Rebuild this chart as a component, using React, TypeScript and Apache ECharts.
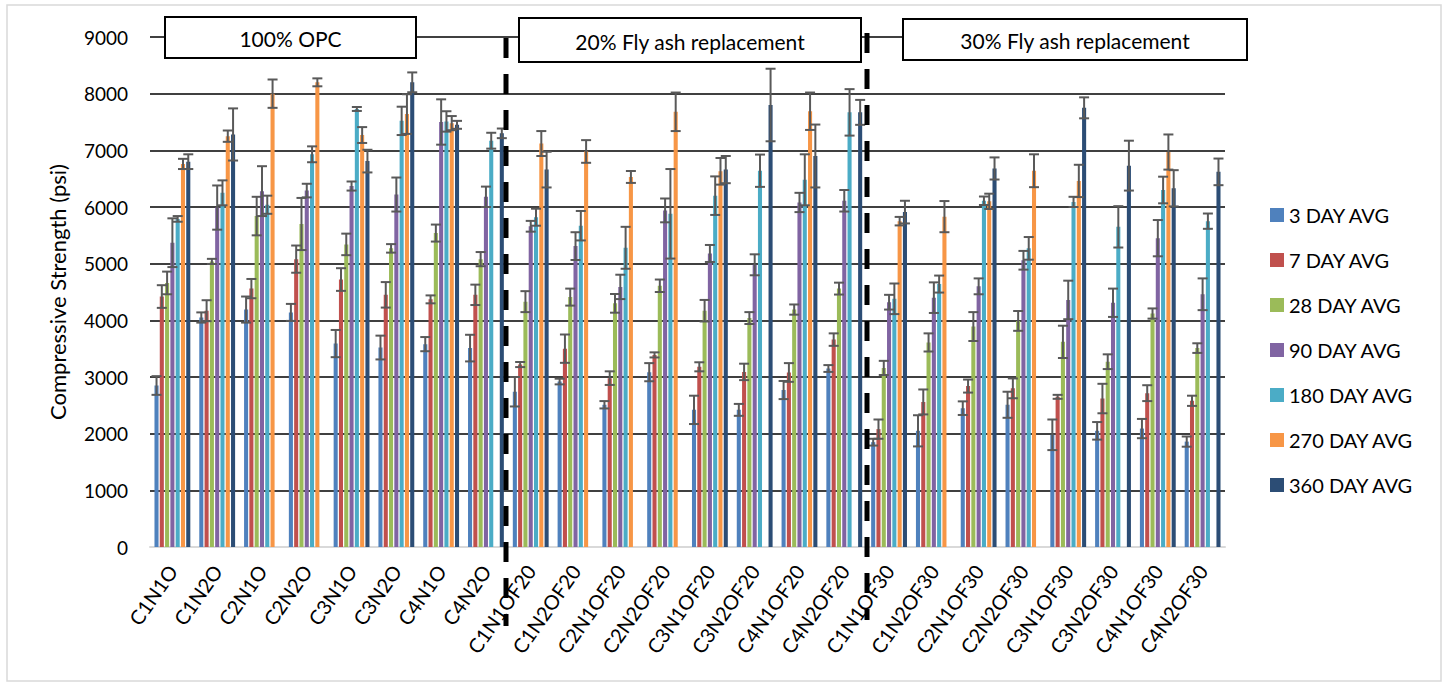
import React, { useEffect, useRef } from "react";
import * as echarts from "echarts";

// Mix designs along the category axis
const categories = [
  "C1N1O", "C1N2O", "C2N1O", "C2N2O", "C3N1O", "C3N2O", "C4N1O", "C4N2O",
  "C1N1OF20", "C1N2OF20", "C2N1OF20", "C2N2OF20", "C3N1OF20", "C3N2OF20", "C4N1OF20", "C4N2OF20",
  "C1N1OF30", "C1N2OF30", "C2N1OF30", "C2N2OF30", "C3N1OF30", "C3N2OF30", "C4N1OF30", "C4N2OF30",
];

const seriesNames = ["3 DAY AVG", "7 DAY AVG", "28 DAY AVG", "90 DAY AVG", "180 DAY AVG", "270 DAY AVG", "360 DAY AVG"];
const seriesColors = ["#4F81BD", "#C0504D", "#9BBB59", "#8064A2", "#4BACC6", "#F79646", "#2C4D75"];

// Average compressive strength (psi); null = not tested
const day3 = [2850, 4050, 4190, 4140, 3590, 3520, 3580, 3510, 2740, 2920, 2510, 3085, 2420, 2420, 2770, 3150, 1850, 2050, 2450, 2510, 1980, 2050, 2090, 1860];
const day7 = [4420, 4170, 4560, 5080, 4720, 4450, 4370, 4450, 3220, 3500, 2980, 3390, 3180, 3090, 3080, 3660, 2080, 2560, 2840, 2800, 2650, 2620, 2715, 2580];
const day28 = [4660, 5040, 5840, 5700, 5340, 5270, 5540, 5080, 4330, 4410, 4300, 4610, 4170, 4040, 4190, 4560, 3160, 3610, 3890, 3990, 3620, 3270, 4120, 3510];
const day90 = [5370, 5990, 6280, 6290, 6370, 6220, 7500, 6180, 5660, 5310, 4590, 5940, 5180, 4980, 6080, 6110, 4320, 4400, 4600, 5060, 4360, 4310, 5450, 4460];
const day180 = [5790, 6250, 6040, 6930, 7730, 7520, 7510, 7170, 5820, 5670, 5280, 5880, 6200, 6640, 6480, 7670, 4380, 4640, 6110, 5270, 6090, 5650, 6300, 5750];
const day270 = [6760, 7250, 8000, 8200, 7270, 7640, 7480, null, 7120, 6980, 6530, 7680, 6630, null, 7690, null, 5750, 5830, 6100, 6640, 6460, null, 6970, null];
const day360 = [6800, 7280, null, null, 6810, 8200, 7450, 7300, 6660, null, null, null, 6660, 7800, 6900, 7670, 5910, null, 6680, null, 7750, 6730, 6330, 6620];

// Standard deviation (psi) for the error bars
const err3 = [165, 90, 230, 150, 240, 210, 125, 235, 260, 50, 65, 160, 250, 105, 160, 60, 60, 275, 120, 230, 270, 155, 170, 90];
const err7 = [200, 185, 170, 240, 200, 225, 70, 180, 45, 250, 120, 45, 80, 145, 165, 110, 170, 220, 115, 175, 35, 260, 140, 90];
const err28 = [200, 45, 340, 460, 190, 75, 150, 125, 185, 150, 165, 110, 190, 105, 90, 105, 125, 160, 255, 175, 285, 130, 90, 85];
const err90 = [430, 390, 440, 120, 80, 300, 400, 180, 95, 245, 215, 210, 150, 185, 170, 190, 130, 270, 140, 165, 340, 250, 320, 280];
const err180 = [50, 220, 160, 140, 35, 250, 180, 140, 150, 260, 370, 790, 340, 285, 450, 410, 270, 150, 75, 200, 90, 365, 235, 135];
const err270 = [90, 100, 250, 70, 140, 350, 125, 0, 220, 200, 105, 340, 235, 0, 330, 0, 75, 275, 135, 290, 285, 0, 310, 0];
const err360 = [130, 460, 0, 0, 200, 175, 70, 85, 315, 0, 0, 0, 240, 640, 555, 220, 200, 0, 195, 0, 185, 440, 320, 235];

const yTicks = [0, 1000, 2000, 3000, 4000, 5000, 6000, 7000, 8000, 9000];
const groupLabels = ["100% OPC", "20% Fly ash replacement", "30% Fly ash replacement"];

const values = [day3, day7, day28, day90, day180, day270, day360];
const errors = [err3, err7, err28, err90, err180, err270, err360];

const FONT = "Lato, 'Open Sans', sans-serif";
const CAT_GAP = 0.2;
const BAR_GAP = 0.3;

function errorRenderer(si: number, n: number) {
  return (_params: any, api: any) => {
    const cat = api.value(0);
    const v = api.value(1);
    const e = api.value(2);
    const catW = api.size([1, 0])[0];
    const usable = catW * (1 - CAT_GAP);
    const bw = usable / (n + (n - 1) * BAR_GAP);
    const off = -usable / 2 + si * bw * (1 + BAR_GAP) + bw / 2;
    const hi = api.coord([cat, v + e]);
    const lo = api.coord([cat, v - e]);
    const x = hi[0] + off;
    const cap = 5;
    const style = { stroke: "#595959", lineWidth: 2 };
    return {
      type: "group",
      children: [
        { type: "line", shape: { x1: x, y1: hi[1], x2: x, y2: lo[1] }, style },
        { type: "line", shape: { x1: x - cap, y1: hi[1], x2: x + cap, y2: hi[1] }, style },
        { type: "line", shape: { x1: x - cap, y1: lo[1], x2: x + cap, y2: lo[1] }, style },
      ],
    };
  };
}

export default function App() {
  const ref = useRef<HTMLDivElement>(null);

  useEffect(() => {
    if (!ref.current) return;
    const chart = echarts.init(ref.current, null, { renderer: "svg" });
    const n = seriesNames.length;

    const barSeries = seriesNames.map((name, si) => ({
      name,
      type: "bar",
      data: values[si].map((v) => (v == null ? "-" : v)),
      barCategoryGap: `${CAT_GAP * 100}%`,
      barGap: `${BAR_GAP * 100}%`,
      itemStyle: { color: seriesColors[si] },
      z: 2,
    }));

    const errSeries = seriesNames.map((name, si) => ({
      name: `${name} error`,
      type: "custom",
      renderItem: errorRenderer(si, n),
      data: values[si]
        .map((v, ci) => (v == null ? null : [ci, v, errors[si][ci]]))
        .filter((d) => d !== null),
      encode: { x: 0, y: 1 },
      z: 3,
      silent: true,
    }));

    // Labelled boxes naming each mix group, drawn over the top gridline
    const box = (x: number, y: number, w: number, h: number, label: string) => [
      {
        type: "rect",
        z: 100,
        shape: { x, y, width: w, height: h },
        style: { fill: "#ffffff", stroke: "#000000", lineWidth: 2 },
      },
      {
        type: "text",
        z: 101,
        x: x + w / 2,
        y: y + h / 2 + 1,
        style: {
          text: label,
          font: `21px ${FONT}`,
          fill: "#000000",
          align: "center",
          verticalAlign: "middle",
        },
      },
    ];

    const dashed = (x: number, y1: number, y2: number) => ({
      type: "line",
      z: 90,
      shape: { x1: x, y1, x2: x, y2 },
      style: { stroke: "#000000", lineWidth: 5, lineDash: [20, 16] },
    });

    chart.setOption({
      animation: false,
      backgroundColor: "#ffffff",
      grid: { left: 150, right: 223, top: 37, bottom: 140, containLabel: false },
      legend: {
        orient: "vertical",
        left: 1265,
        top: 200,
        data: seriesNames,
        icon: "rect",
        itemWidth: 14,
        itemHeight: 14,
        itemGap: 25,
        textStyle: { fontFamily: FONT, fontSize: 20, color: "#000000", lineHeight: 20 },
      },
      xAxis: {
        type: "category",
        data: categories,
        axisLine: { show: true, lineStyle: { color: "#D9D9D9", width: 2 } },
        axisTick: { show: false },
        axisLabel: {
          interval: 0,
          rotate: 55,
          margin: 20,
          fontFamily: FONT,
          fontSize: 20,
          color: "#000000",
        },
      },
      yAxis: {
        type: "value",
        min: yTicks[0],
        max: yTicks[yTicks.length - 1],
        interval: 1000,
        name: "Compressive Strength (psi)",
        nameLocation: "middle",
        nameGap: 82,
        nameTextStyle: { fontFamily: FONT, fontSize: 22, color: "#000000" },
        axisLine: { show: false },
        axisTick: { show: false },
        axisLabel: {
          margin: 22,
          fontFamily: FONT,
          fontSize: 19,
          color: "#000000",
          formatter: (v: number) => String(v),
        },
        splitLine: { show: true, lineStyle: { color: "#000000", width: 1.5 } },
      },
      series: [...barSeries, ...errSeries],
      graphic: [
        {
          type: "rect",
          z: 0,
          shape: { x: 7, y: 5, width: 1434, height: 676 },
          style: { fill: "none", stroke: "#D9D9D9", lineWidth: 1.5 },
        },
        dashed(506, 38, 626),
        dashed(867, 33, 620),
        ...box(165, 17, 251, 41, groupLabels[0]),
        ...box(519, 18, 342, 44, groupLabels[1]),
        ...box(903, 19, 344, 41, groupLabels[2]),
      ],
    });

    return () => chart.dispose();
  }, []);

  return (
    <div
      ref={ref}
      style={{ position: "fixed", left: 0, top: 0, width: 1448, height: 687, background: "#ffffff" }}
    />
  );
}
